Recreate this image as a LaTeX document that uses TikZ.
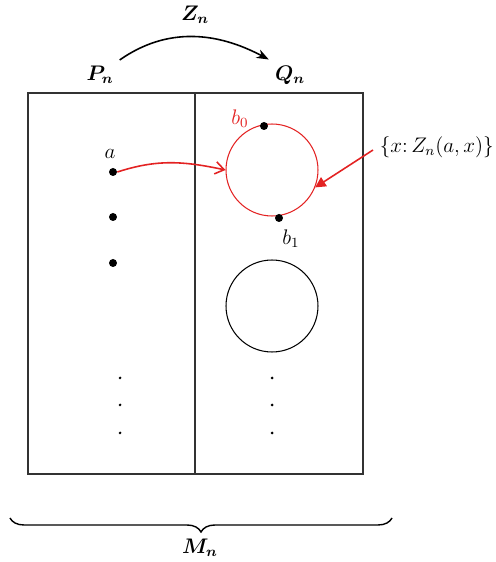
\documentclass[tikz,border=0pt]{standalone}
\usepackage{amsmath,bm}
\usepackage{tikz}
\usetikzlibrary{arrows.meta,decorations.pathreplacing}
\definecolor{zred}{HTML}{E32222}
\definecolor{framegray}{HTML}{333333}
\tikzset{
  bigdot/.style={circle,fill=black,inner sep=0pt,minimum size=0.16cm},
  smalldot/.style={circle,fill=black,inner sep=0pt,minimum size=0.06cm},
  setcirc/.style={circle,draw,line width=0.6pt,inner sep=0pt,minimum size=1.84cm},
  lbl/.style={font=\large}
}

\begin{document}
\begin{tikzpicture}[x=0.02cm,y=0.02cm]
  \useasboundingbox (0,0) rectangle (496,562);
  % frame of M_n, split into P_n and Q_n
  \draw[framegray,line width=0.6pt] (28,88) rectangle (363,469);
  \draw[framegray,line width=0.6pt] (195,88) -- (195,469);
  % map Z_n from P_n to Q_n
  \node[lbl] (pn) at (100,487) {$\bm{P_n}$};
  \node[lbl] (qn) at (290,487) {$\bm{Q_n}$};
  \node[lbl] (zn) at (195,547) {$\bm{Z_n}$};
  \draw[line width=0.9pt,-{Stealth[length=7pt]}] (pn.north east) to[out=35,in=152] (qn.north west);
  % points of P_n
  \node[bigdot] (a) at (113,390) {};
  \node[bigdot] (p2) at (113,345) {};
  \node[bigdot] (p3) at (113,299) {};
  \node[lbl,anchor=south] (alab) at (110,397) {$a$};
  \foreach \y/\i in {184/1,157/2,129/3} {
    \node[smalldot] (pd\i) at (120,\y) {};
    \node[smalldot] (qd\i) at (272,\y) {};
  }
  % sets in Q_n
  \node[setcirc,draw=zred] (zset) at (272,392) {};
  \node[setcirc] (other) at (272,256) {};
  \node[bigdot] (b0) at (264,436) {};
  \node[bigdot] (b1) at (279,344) {};
  \node[lbl,text=zred] (b0lab) at (240,443) {$b_0$};
  \node[lbl] (b1lab) at (291,323) {$b_1$};
  % image of a
  \draw[zred,line width=0.9pt,-{Straight Barb[length=5pt,width=7pt]}] (a.east) to[out=18,in=168] (zset.west);
  \node[lbl,anchor=east,inner sep=0.5pt] (setlab) at (495,415) {$\{x{:}\,Z_n(a,x)\}$};
  \coordinate (tail) at (373,412);
  \draw[zred,line width=0.9pt,-{Triangle[length=6pt,width=6pt]}] (tail) -- (zset.-22);
  % brace for M_n
  \draw[line width=0.8pt,decorate,decoration={brace,mirror,amplitude=0.28cm}] (10,44) -- (392,44);
  \node[lbl] (mn) at (200,14) {$\bm{M_n}$};
\end{tikzpicture}
\end{document}
